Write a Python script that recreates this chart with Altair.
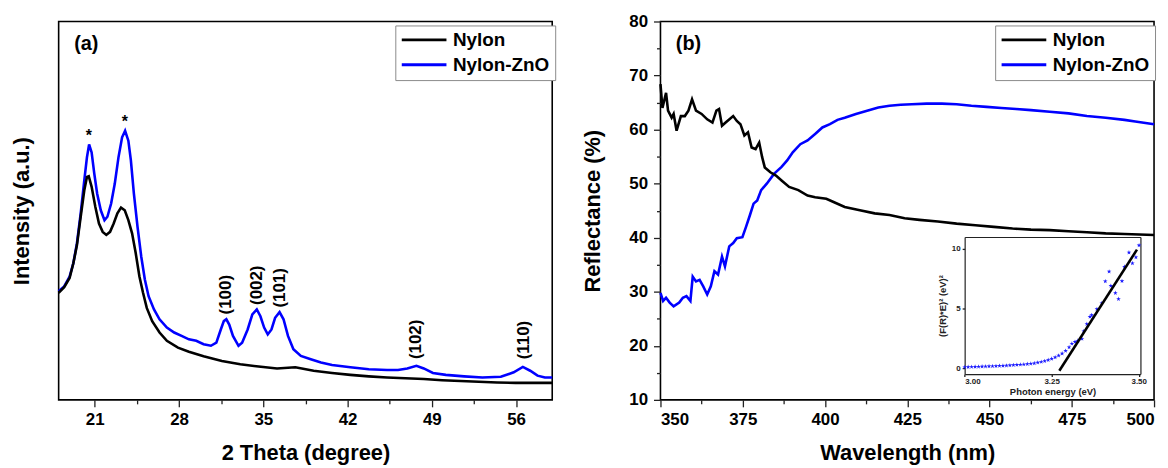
import altair as alt
import pandas as pd

FONT = "Liberation Sans"
series_names = ["Nylon", "Nylon-ZnO"]
series_colors = ["#000000", "#0000FF"]

# ---------------- panel (a): XRD ----------------
theta_nylon = [18.0, 18.46, 18.91, 19.22, 19.52, 19.83, 20.13, 20.35, 20.5, 20.74,
               21.05, 21.35, 21.66, 21.96, 22.27, 22.57, 22.88, 23.18, 23.49, 23.79,
               24.1, 24.4, 24.71, 25.01, 25.32, 25.77, 26.38, 26.99, 27.91, 28.82,
               30.04, 31.56, 33.09, 34.61, 36.14, 37.66, 39.18, 40.71, 42.23, 43.76,
               45.28, 46.8, 48.33, 49.85, 51.38, 52.9, 54.42, 55.95, 57.47, 59.0]
int_nylon = [28.3, 29.8, 32.2, 36.1, 40.9, 48.4, 55.4, 58.9, 59.1, 56.3,
             51.0, 46.6, 44.4, 43.6, 44.4, 46.6, 49.3, 50.8, 50.1, 47.5,
             44.0, 38.8, 32.6, 28.3, 24.3, 20.8, 17.8, 15.6, 13.8, 12.7,
             11.5, 10.3, 9.4, 8.8, 8.3, 8.6, 7.7, 7.1, 6.6, 6.2,
             5.9, 5.7, 5.5, 5.2, 5.0, 4.8, 4.6, 4.5, 4.5, 4.5]

theta_zno = [18.0, 18.46, 18.91, 19.22, 19.52, 19.83, 20.13, 20.35, 20.53, 20.74,
             20.96, 21.2, 21.5, 21.81, 22.05, 22.36, 22.66, 22.97, 23.27, 23.52,
             23.79, 24.0, 24.25, 24.55, 24.86, 25.16, 25.47, 25.92, 26.38, 26.99,
             27.6, 28.21, 28.82, 29.43, 30.04, 30.65, 31.1, 31.47, 31.72, 31.93,
             32.17, 32.48, 32.94, 33.24, 33.7, 34.09, 34.46, 34.76, 35.07, 35.37,
             35.68, 35.98, 36.35, 36.68, 37.05, 37.5, 38.12, 38.88, 39.79, 40.71,
             42.23, 43.76, 45.28, 46.19, 46.96, 47.72, 48.33, 49.09, 50.16, 51.68,
             53.2, 54.73, 55.8, 56.56, 57.17, 57.78, 58.39, 59.0]
int_zno = [28.7, 30.0, 32.6, 36.1, 41.4, 49.3, 58.0, 64.1, 67.5, 65.4,
           59.8, 54.5, 50.1, 47.5, 48.4, 51.9, 57.1, 64.1, 69.4, 71.1,
           68.5, 63.3, 54.5, 45.8, 37.9, 31.8, 27.4, 23.9, 21.3, 19.1,
           17.8, 16.9, 16.0, 15.6, 14.7, 14.3, 15.1, 18.6, 20.8, 21.3,
           19.9, 16.9, 14.3, 15.1, 18.6, 22.6, 23.9, 22.1, 19.1, 17.3,
           18.6, 21.7, 23.2, 21.3, 16.9, 13.4, 11.6, 10.8, 9.9, 9.2,
           8.6, 8.1, 7.9, 7.9, 8.3, 9.0, 8.3, 7.1, 6.6, 6.2,
           5.9, 6.1, 7.3, 8.7, 7.7, 6.4, 5.9, 5.9]

hkl_labels = ["(100)", "(002)", "(101)", "(102)", "(110)"]
hkl_x = [31.9, 34.5, 36.4, 47.7, 56.7]
hkl_y = [27.8, 30.3, 29.6, 16.0, 15.8]
star_x = [20.5, 23.5]
star_y = [70.7, 74.4]
tag_a = ["(a)"]
tag_a_x = [20.3]
tag_a_y = [94.0]

x_major_a = [21, 28, 35, 42, 49, 56]
x_minor_a = [24.5, 31.5, 38.5, 45.5, 52.5]

# ---------------- panel (b): reflectance ----------------
wl_nylon = [350.0, 350.6, 351.7, 352.3, 353.4, 354.0, 354.9, 356.2, 357.4, 358.5,
            359.6, 360.8, 362.5, 364.2, 365.8, 367.0, 367.8, 368.7, 369.8, 372.1,
            373.2, 374.3, 375.5, 376.6, 377.7, 378.9, 380.0, 380.9, 381.7, 383.4,
            385.1, 386.8, 389.1, 391.9, 394.7, 397.0, 400.4, 402.6, 406.0, 410.6,
            415.1, 419.6, 424.2, 428.7, 434.3, 440.0, 445.7, 451.3, 457.0, 462.6,
            468.3, 474.0, 479.6, 485.3, 491.0, 500.0]
refl_nylon = [68.4, 64.0, 66.8, 63.5, 62.2, 62.9, 59.8, 62.5, 62.5, 63.5,
              65.6, 63.5, 62.9, 61.9, 61.3, 63.5, 63.8, 60.7, 61.3, 62.5,
              61.6, 61.0, 58.9, 59.5, 56.7, 56.4, 57.6, 54.9, 53.0, 52.1,
              51.5, 50.6, 49.4, 48.8, 47.8, 47.5, 47.2, 46.6, 45.7, 45.1,
              44.5, 44.2, 43.6, 43.3, 43.0, 42.6, 42.3, 42.0, 41.7, 41.5,
              41.4, 41.2, 41.0, 40.8, 40.7, 40.5]

wl_zno = [350.0, 350.8, 351.7, 352.8, 354.0, 355.7, 356.8, 357.9, 359.1, 359.8,
          360.8, 361.9, 363.0, 364.2, 365.3, 366.4, 367.5, 368.7, 369.6, 370.9,
          372.1, 373.2, 374.9, 376.0, 377.2, 378.3, 379.4, 380.6, 382.3, 384.5,
          386.8, 388.5, 390.2, 392.5, 394.7, 397.0, 399.2, 401.5, 403.8, 406.0,
          409.4, 412.8, 416.2, 419.6, 423.0, 426.4, 430.9, 435.5, 440.0, 444.5,
          449.1, 453.6, 458.1, 462.6, 468.3, 474.0, 479.6, 485.3, 491.0, 494.3,
          500.0]
refl_zno = [29.8, 28.3, 28.9, 28.0, 27.3, 28.0, 28.9, 29.2, 28.3, 32.8,
            31.9, 32.2, 31.0, 29.5, 31.0, 33.8, 33.2, 36.5, 34.7, 38.4,
            39.0, 39.9, 40.1, 42.0, 44.2, 46.3, 46.9, 48.8, 50.0, 51.8,
            53.1, 54.3, 55.8, 57.3, 58.0, 59.2, 60.4, 61.0, 61.8, 62.2,
            62.9, 63.5, 64.1, 64.4, 64.6, 64.7, 64.8, 64.8, 64.7, 64.4,
            64.2, 64.0, 63.8, 63.6, 63.3, 63.0, 62.5, 62.2, 61.8, 61.5,
            61.0]

tag_b = ["(b)"]
tag_b_x = [358.5]
tag_b_y = [75.8]

x_major_b = [350, 375, 400, 425, 450, 475, 500]
x_minor_b = [362.5, 387.5, 412.5, 437.5, 462.5, 487.5]
y_major_b = [10, 20, 30, 40, 50, 60, 70, 80]
y_minor_b = [15, 25, 35, 45, 55, 65, 75]

# inset: Tauc-type plot
inset_E = [3.000, 3.010, 3.020, 3.030, 3.040, 3.050, 3.060, 3.070, 3.080, 3.090,
           3.100, 3.110, 3.120, 3.130, 3.140, 3.150, 3.160, 3.170, 3.180, 3.190,
           3.200, 3.210, 3.220, 3.230, 3.240, 3.250, 3.260, 3.270, 3.280, 3.290,
           3.300, 3.308, 3.317, 3.325, 3.337, 3.342, 3.351, 3.360, 3.365, 3.380,
           3.394, 3.404, 3.415, 3.420, 3.433, 3.442, 3.452, 3.459, 3.472, 3.482,
           3.492, 3.501]
inset_F = [0.08, 0.09, 0.10, 0.11, 0.12, 0.13, 0.14, 0.15, 0.16, 0.17,
           0.19, 0.20, 0.21, 0.23, 0.25, 0.27, 0.29, 0.31, 0.34, 0.37,
           0.41, 0.46, 0.52, 0.59, 0.68, 0.78, 0.90, 1.05, 1.22, 1.45,
           1.75, 2.05, 2.20, 2.30, 2.45, 3.10, 3.70, 4.30, 4.45, 4.95,
           5.45, 7.28, 8.10, 6.90, 6.30, 5.80, 7.30, 8.50, 9.70, 8.80,
           9.30, 10.30]
fit_E = [3.272, 3.495]
fit_F = [-0.22, 9.94]

# ---------------- data frames ----------------
df_a = pd.concat([
    pd.DataFrame({"x": theta_zno, "y": int_zno, "series": "Nylon-ZnO"}),
    pd.DataFrame({"x": theta_nylon, "y": int_nylon, "series": "Nylon"}),
])
df_hkl = pd.DataFrame({"x": hkl_x, "y": hkl_y, "t": hkl_labels})
df_star = pd.DataFrame({"x": star_x, "y": star_y, "t": ["*"] * len(star_x)})
df_tag_a = pd.DataFrame({"x": tag_a_x, "y": tag_a_y, "t": tag_a})

df_b = pd.concat([
    pd.DataFrame({"x": wl_zno, "y": refl_zno, "series": "Nylon-ZnO"}),
    pd.DataFrame({"x": wl_nylon, "y": refl_nylon, "series": "Nylon"}),
])
df_tag_b = pd.DataFrame({"x": tag_b_x, "y": tag_b_y, "t": tag_b})
df_inset = pd.DataFrame({"E": inset_E, "F": inset_F})
df_fit = pd.DataFrame({"E": fit_E, "F": fit_F})

W, H = 497, 381
BOLD = "bold"
MAJOR, MINOR = 7, 4


def legend(x, y):
    return alt.Legend(
        title=None, orient="none", legendX=x, legendY=y, direction="vertical",
        symbolType="stroke", symbolSize=2025, symbolStrokeWidth=3, clipHeight=19,
        labelFont=FONT, labelFontSize=19, labelFontWeight=BOLD, labelColor="black",
        strokeColor="#8a8a8a", fillColor="white", padding=5, rowPadding=5,
        labelOffset=5, cornerRadius=0,
    )


def minor_axis(orient, values):
    return alt.Axis(orient=orient, values=values, labels=False, title=None,
                    tickSize=MINOR, domain=False, grid=False)


color_scale = alt.Scale(domain=series_names, range=series_colors)

# ---------- panel (a) ----------
xs_a = alt.Scale(domain=[18, 59], nice=False, zero=False)
ys_a = alt.Scale(domain=[0, 100], nice=False, zero=False)

lines_a = alt.Chart(df_a).mark_line(strokeWidth=2.6).encode(
    x=alt.X("x:Q", scale=xs_a,
            axis=alt.Axis(orient="bottom", values=x_major_a, title="2 Theta (degree)",
                          tickSize=MAJOR, labelPadding=5, titlePadding=15)),
    y=alt.Y("y:Q", scale=ys_a,
            axis=alt.Axis(labels=False, ticks=False, title="Intensity (a.u.)", titlePadding=25)),
    color=alt.Color("series:N", scale=color_scale, legend=legend(339, 4)),
    detail="series:N",
)
hkl = alt.Chart(df_hkl).mark_text(angle=270, align="center", baseline="middle",
                                   font=FONT, fontSize=17, fontWeight=BOLD, color="black").encode(
    x=alt.X("x:Q", scale=xs_a, axis=minor_axis("bottom", x_minor_a)),
    y=alt.Y("y:Q", scale=ys_a), text="t:N")
stars = alt.Chart(df_star).mark_text(align="center", baseline="middle", dy=4,
                                     font=FONT, fontSize=16, fontWeight=BOLD, color="black").encode(
    x=alt.X("x:Q", scale=xs_a, axis=None), y=alt.Y("y:Q", scale=ys_a), text="t:N")
tag_a_mark = alt.Chart(df_tag_a).mark_text(align="center", baseline="middle",
                                           font=FONT, fontSize=20, fontWeight=BOLD, color="black").encode(
    x=alt.X("x:Q", scale=xs_a, axis=None), y=alt.Y("y:Q", scale=ys_a), text="t:N")

panel_a = alt.layer(lines_a, hkl, stars, tag_a_mark).resolve_axis(x="independent").properties(width=W, height=H)

# ---------- panel (b) ----------
xs_b = alt.Scale(domain=[350, 500], nice=False, zero=False)
ys_b = alt.Scale(domain=[10, 80], nice=False, zero=False)

lines_b = alt.Chart(df_b).mark_line(strokeWidth=2.6).encode(
    x=alt.X("x:Q", scale=xs_b,
            axis=alt.Axis(orient="bottom", values=x_major_b, title="Wavelength (nm)",
                          tickSize=MAJOR, labelPadding=5, titlePadding=15)),
    y=alt.Y("y:Q", scale=ys_b,
            axis=alt.Axis(orient="left", values=y_major_b, title="Reflectance (%)",
                          tickSize=MAJOR, labelPadding=6, titlePadding=24)),
    color=alt.Color("series:N", scale=color_scale, legend=legend(337, 4)),
    detail="series:N",
)
tag_b_mark = alt.Chart(df_tag_b).mark_text(align="center", baseline="middle",
                                           font=FONT, fontSize=20, fontWeight=BOLD, color="black").encode(
    x=alt.X("x:Q", scale=xs_b, axis=minor_axis("bottom", x_minor_b)),
    y=alt.Y("y:Q", scale=ys_b, axis=minor_axis("left", y_minor_b)),
    text="t:N")
main_b = alt.layer(lines_b, tag_b_mark).resolve_axis(x="independent", y="independent")

# inset, drawn with its own scales mapped into a sub-rectangle of the plot
ix0, ix1 = 306.3, 483.3
iy0, iy1 = 355, 217
inset_xs = alt.Scale(domain=[3.0, 3.505], range=[ix0, ix1], nice=False, zero=False)
inset_ys = alt.Scale(domain=[-0.5, 11], range=[iy0, iy1], nice=False, zero=False)
inset_axis_style = dict(labelFont=FONT, labelFontSize=8, labelFontWeight=BOLD, labelColor="#222",
                        titleFont=FONT, titleFontSize=9.5, titleFontWeight=BOLD, titleColor="#222",
                        tickSize=2.5, tickColor="#222", domain=True, domainColor="#222", domainWidth=1.2,
                        grid=False)

star_path = "M0,-1L0.2245,-0.309L0.951,-0.309L0.363,0.118L0.588,0.809L0,0.382L-0.588,0.809L-0.363,0.118L-0.951,-0.309L-0.2245,-0.309Z"
inset_pts = alt.Chart(df_inset).mark_point(shape=star_path, filled=True, size=24, color="#1a1aff", opacity=1).encode(
    x=alt.X("E:Q", scale=inset_xs,
            axis=alt.Axis(orient="bottom", offset=iy0 - H, values=[3.0, 3.25, 3.5], format=".2f",
                          title="Photon energy (eV)", labelPadding=1, titlePadding=1, **inset_axis_style)),
    y=alt.Y("F:Q", scale=inset_ys,
            axis=alt.Axis(orient="left", offset=-ix0, values=[0, 5, 10],
                          title="(F(R)*E)² (eV)²", labelPadding=2, titlePadding=4, **inset_axis_style)),
)
inset_fit = alt.Chart(df_fit).mark_line(color="black", strokeWidth=2.6).encode(
    x=alt.X("E:Q", scale=inset_xs,
            axis=alt.Axis(orient="top", offset=-iy1, labels=False, ticks=False, title=None, grid=False,
                          domain=True, domainColor="#222", domainWidth=1.2)),
    y=alt.Y("F:Q", scale=inset_ys,
            axis=alt.Axis(orient="right", offset=ix1 - W, labels=False, ticks=False, title=None, grid=False,
                          domain=True, domainColor="#222", domainWidth=1.2)),
)
inset = alt.layer(inset_pts, inset_fit).resolve_axis(x="independent", y="independent")

panel_b = alt.layer(main_b, inset).resolve_scale(x="independent", y="independent").properties(width=W, height=H)

chart = alt.hconcat(panel_a, panel_b, spacing=23).resolve_scale(color="independent").properties(
    padding={"left": 2, "top": 2, "right": 0, "bottom": 0}, background="white"
).configure_axis(
    labelFont=FONT, labelFontSize=17, labelFontWeight=BOLD, labelColor="black",
    titleFont=FONT, titleFontSize=22, titleFontWeight=BOLD, titleColor="black",
    tickColor="#222", tickWidth=1.3, domain=False, grid=False,
).configure_view(stroke="black", strokeWidth=1.6)

chart.save("out.html", embed_options={"renderer": "svg", "actions": False})
